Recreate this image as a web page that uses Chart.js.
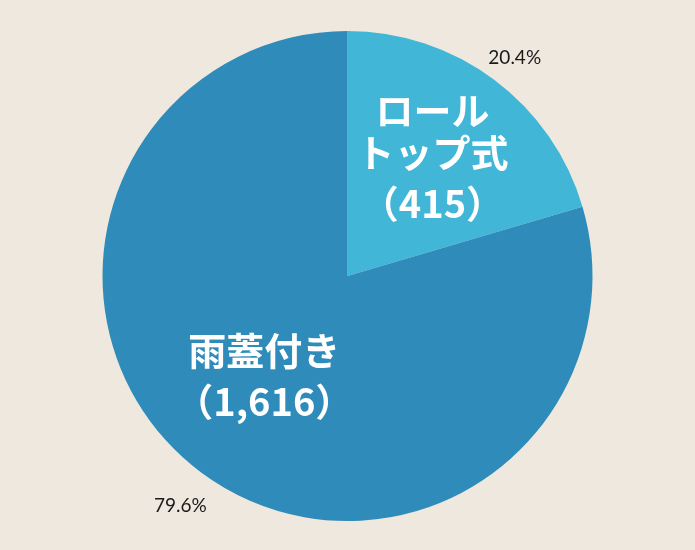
<!DOCTYPE html>
<html>
<head>
<meta charset="utf-8">
<script src="https://cdn.jsdelivr.net/npm/chart.js@4"></script>
<style>
  html, body { margin: 0; padding: 0; background: #EEE8DE; }
  #wrap { width: 695px; height: 550px; }
</style>
</head>
<body>
<div id="wrap"><canvas id="myChart" width="695" height="550"></canvas></div>
<script>
// data
const categories = ['ロール\nトップ式', '雨蓋付き']
const counts = [415, 1616]
const colors = ['#42B6D7', '#2E8BBA']

const total = counts.reduce((a, b) => a + b, 0)

// draws the in-slice names and the outside percentages
const sliceLabels = {
  id: 'sliceLabels',
  afterDatasetsDraw(chart) {
    const ctx = chart.ctx
    const arcs = chart.getDatasetMeta(0).data
    arcs.forEach((arc, i) => {
      const p = arc.getProps(['x', 'y', 'startAngle', 'endAngle', 'outerRadius'], true)
      const mid = (p.startAngle + p.endAngle) / 2
      const R = p.outerRadius

      // name + count inside
      const inner = i === 0 ? 0.62 : 0.54
      const cx = p.x + Math.cos(mid) * R * inner - (i === 0 ? 6 : 4)
      const cy = p.y + Math.sin(mid) * R * inner + (i === 0 ? -2 : -6)
      const lines = categories[i].split('\n')
      lines.push('（' + counts[i].toLocaleString('en-US') + '）')
      const lh = i === 0 ? 42 : 51
      ctx.save()
      ctx.fillStyle = '#ffffff'
      ctx.textAlign = 'center'
      ctx.textBaseline = 'middle'
      ctx.font = 'bold 38px "Noto Sans CJK JP", "Noto Sans", sans-serif'
      const startY = cy - (lines.length - 1) * lh / 2
      lines.forEach((t, k) => {
        let yy = startY + k * lh
        if (k === lines.length - 1 && i === 0) yy += 9
        ctx.fillText(t, cx, yy)
      })

      // percentage outside
      const pct = (counts[i] / total * 100).toFixed(1) + '%'
      const ox = p.x + Math.cos(mid) * R * 1.14
      const oy = p.y + Math.sin(mid) * R * 1.14 + 6
      ctx.fillStyle = '#1a1a1a'
      ctx.font = '19px Lato, "Noto Sans", sans-serif'
      ctx.fillText(pct, ox, oy)
      ctx.restore()
    })
  }
}

const chartCtx = document.getElementById('myChart')

const myChart = new Chart(chartCtx, {
  type: 'pie',
  data: {
    labels: categories,
    datasets: [{
      data: counts,
      backgroundColor: colors,
      borderWidth: 0
    }]
  },
  options: {
    responsive: false,
    animation: false,
    layout: { padding: { top: 31, bottom: 29, left: 0, right: 0 } },
    plugins: {
      legend: { display: false },
      tooltip: { enabled: false }
    }
  },
  plugins: [sliceLabels]
})
</script>
</body>
</html>
